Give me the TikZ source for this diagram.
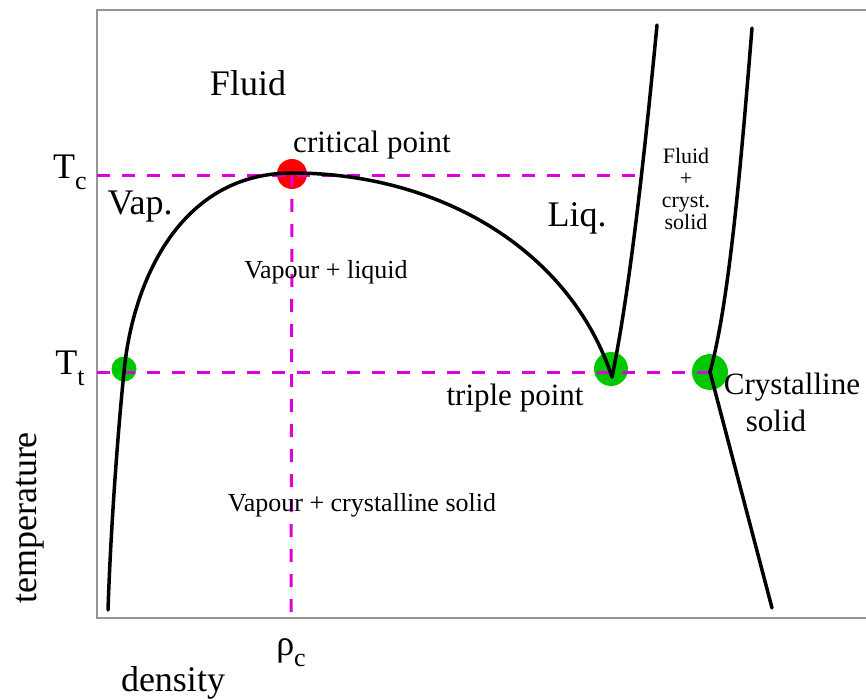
\documentclass[tikz,border=0pt]{standalone}
\usepackage{fontspec}
\setmainfont{Liberation Serif}
\definecolor{mag}{RGB}{220,0,220}
\definecolor{grn}{RGB}{0,200,0}
\definecolor{frm}{RGB}{150,150,150}
\begin{document}
\begin{tikzpicture}[x=1pt,y=-1pt,
 frame/.style={draw=frm, line width=2.5pt},
 guide/.style={draw=mag, line width=3pt, dash pattern=on 13pt off 12pt},
 phase/.style={draw=black, line width=3.5pt, line cap=round, line join=round},
 dot/.style={circle, inner sep=0pt, minimum size=#1},
 big/.style={font=\fontsize{36}{40}\selectfont, inner sep=0pt},
 mid/.style={font=\fontsize{31}{34}\selectfont, inner sep=0pt},
 small/.style={font=\fontsize{26}{26}\selectfont, inner sep=0pt},
 tiny/.style={font=\fontsize{22}{22}\selectfont, inner sep=0pt, align=center}]
\useasboundingbox (0,0) rectangle (866,700);
% frame
\draw[frame] (866,10) -- (97,10) -- (97,618) -- (866,618);
% points
\node[dot=30pt, fill=red] (cp) at (292,174) {};
\node[dot=25pt, fill=grn] (tpv) at (124,369) {};
\node[dot=34pt, fill=grn] (tpl) at (611,369) {};
\node[dot=36pt, fill=grn] (tps) at (710,372) {};
% guide coordinates
\coordinate (tcl) at (97,176);
\coordinate (tcr) at (645,176);
\coordinate (ttl) at (97,372);
\coordinate (ttr) at (710,372);
\coordinate (rhob) at (291,618);
\draw[guide] (tcl) -- (tcr);
\draw[guide] (ttl) -- (ttr);
\draw[guide] (cp.center) -- (rhob);
% phase boundaries
\coordinate (vb) at (108,610);
\coordinate (vt) at (124,372);
\coordinate (cusp) at (612,377);
\coordinate (ltop) at (657,25);
\coordinate (sl) at (710,372);
\coordinate (stop) at (752,28);
\coordinate (sbot) at (772,608);
\draw[phase] (vb) .. controls (111,520) and (119,420) .. (vt)
  .. controls (132,285) and (178,173) .. (292,173)
  .. controls (440,173) and (570,250) .. (cusp);
\draw[phase] (cusp) .. controls (630,290) and (645,150) .. (ltop);
\draw[phase] (sl) .. controls (730,300) and (742,150) .. (stop);
\draw[phase] (sl) -- (sbot);
% labels
\node[big] (fluid) at (248,83) {Fluid};
\node[mid] (cpl) at (372,145) {critical point};
\node[big] (tc) at (70,172) {T\raisebox{-0.3em}{\fontsize{26}{26}\selectfont c}};
\node[big] (vap) at (140,207) {Vap.};
\node[big] (liq) at (577,218) {Liq.};
\node[tiny] (fcs) at (686,189) {Fluid\\+\\cryst.\\solid};
\node[small] (vl) at (326,272) {Vapour + liquid};
\node[big] (tt) at (70,368) {T\raisebox{-0.3em}{\fontsize{26}{26}\selectfont t}};
\node[mid] (tpn) at (515,398) {triple point};
\node[mid] (cs1) at (792,387) {Crystalline};
\node[mid] (cs2) at (776,421) {solid};
\node[big, rotate=90] (temp) at (30,518) {temperature};
\node[small] (vcs) at (362,505) {Vapour + crystalline solid};
\node[big] (rho) at (291,653) {ρ\raisebox{-0.3em}{\fontsize{26}{26}\selectfont c}};
\node[big] (dens) at (173,683) {density};
\end{tikzpicture}
\end{document}
